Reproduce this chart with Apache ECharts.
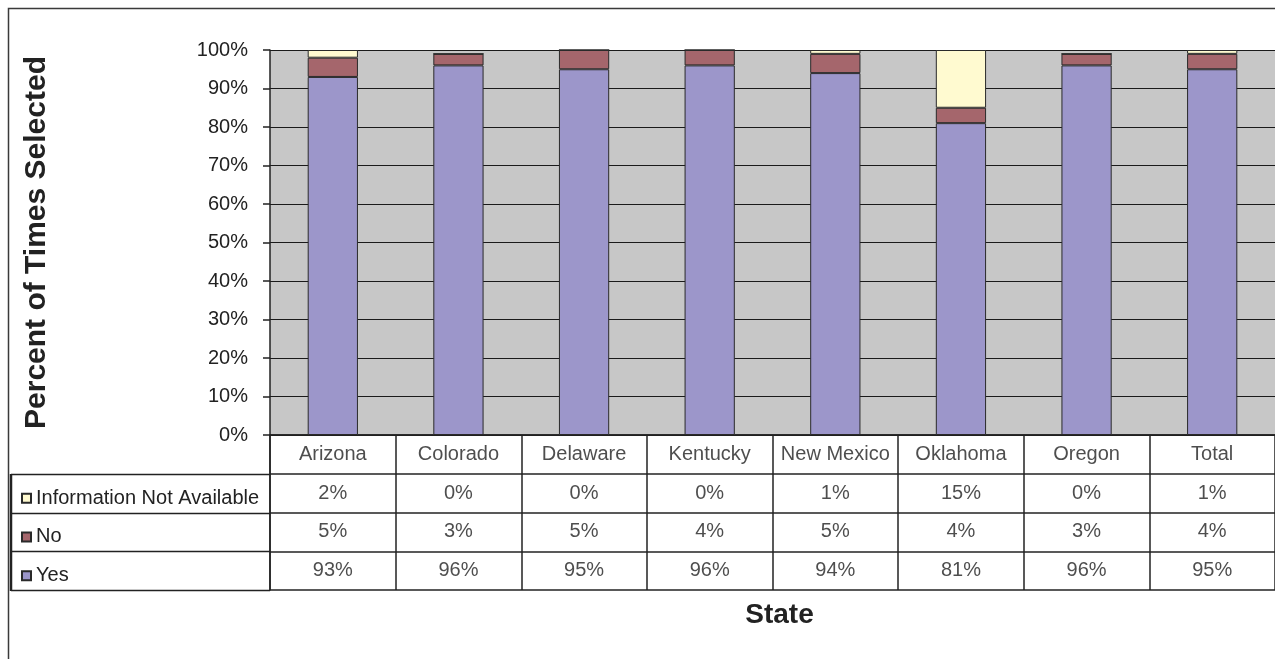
<!DOCTYPE html>
<html>
<head>
<meta charset="utf-8">
<script src="https://cdn.jsdelivr.net/npm/echarts@6/dist/echarts.min.js"></script>
<style>
  html, body { margin: 0; padding: 0; background: #ffffff; }
  #chart { width: 1275px; height: 659px; }
</style>
</head>
<body>
<div id="chart"></div>
<script>
// Share of answers per state (percent)
const categories = ['Arizona', 'Colorado', 'Delaware', 'Kentucky', 'New Mexico', 'Oklahoma', 'Oregon', 'Total'];
const yesPct = [93, 96, 95, 96, 94, 81, 96, 95];
const noPct = [5, 3, 5, 4, 5, 4, 3, 4];
const naPct = [2, 0, 0, 0, 1, 15, 0, 1];

const seriesNames = ['Yes', 'No', 'Information Not Available'];
const colors = { 'Yes': '#9c96ca', 'No': '#a5666c', 'Information Not Available': '#fffad0' };

const FONT = '"Liberation Sans", Arial, sans-serif';
const INK = '#222222';

// layout
const PLOT_LEFT = 270, PLOT_TOP = 50, PLOT_W = 1019, PLOT_H = 385;
const TABLE_TOP = PLOT_TOP + PLOT_H, TABLE_H = 155, ROWS = 4;
const ROW_H = TABLE_H / ROWS;

const chart = echarts.init(document.getElementById('chart'), null, { renderer: 'canvas' });

function barSeries(name, values) {
  return {
    name: name,
    type: 'bar',
    stack: 'pct',
    xAxisIndex: 0,
    yAxisIndex: 0,
    barWidth: '40%',
    data: values,
    itemStyle: { color: colors[name], borderColor: '#2a2a2a', borderWidth: 1 },
    emphasis: { disabled: true },
    animation: false
  };
}

// data-table cells: header row holds category names, then one row per answer
const tableRows = [
  { row: 0.5, values: categories },
  { row: 1.5, values: naPct.map(v => v + '%') },
  { row: 2.5, values: noPct.map(v => v + '%') },
  { row: 3.5, values: yesPct.map(v => v + '%') }
];
const cellData = [];
tableRows.forEach(r => r.values.forEach((v, i) => cellData.push({ value: [i, r.row], text: v })));

// lines of the legend column to the left of the table
const legendLines = [];
for (let k = 1; k <= ROWS; k++) {
  const y = Math.round(TABLE_TOP + ROW_H * k) + 0.5;
  legendLines.push({
    type: 'line',
    shape: { x1: 11, y1: y, x2: PLOT_LEFT, y2: y },
    style: { stroke: '#222', lineWidth: 1.5 }
  });
}
legendLines.push({
  type: 'line',
  shape: { x1: 11, y1: Math.round(TABLE_TOP + ROW_H), x2: 11, y2: TABLE_TOP + TABLE_H + 1 },
  style: { stroke: '#222', lineWidth: 2.5 }
});

const option = {
  backgroundColor: '#ffffff',
  animation: false,
  textStyle: { fontFamily: FONT },
  grid: [
    { left: PLOT_LEFT, top: PLOT_TOP, width: PLOT_W, height: PLOT_H, show: true, backgroundColor: '#c7c7c7', borderWidth: 0 },
    { left: PLOT_LEFT, top: TABLE_TOP, width: PLOT_W, height: TABLE_H, show: false }
  ],
  xAxis: [
    {
      type: 'category', gridIndex: 0, data: categories, boundaryGap: true,
      axisLine: { show: true, lineStyle: { color: '#222', width: 1.5 } },
      axisTick: { show: false }, axisLabel: { show: false }, splitLine: { show: false }
    },
    {
      type: 'category', gridIndex: 1, data: categories, boundaryGap: true,
      axisLine: { show: false }, axisTick: { show: false }, axisLabel: { show: false },
      splitLine: { show: true, lineStyle: { color: '#222', width: 1.5 } }
    }
  ],
  yAxis: [
    {
      type: 'value', gridIndex: 0, min: 0, max: 100, interval: 10,
      name: 'Percent of Times Selected', nameLocation: 'middle', nameGap: 218, nameRotate: 90,
      nameTextStyle: { fontFamily: FONT, fontWeight: 'bold', fontSize: 30, color: INK },
      axisLine: { show: true, lineStyle: { color: '#222', width: 1.5 } },
      axisTick: { show: true, length: 7, lineStyle: { color: '#222', width: 1.5 } },
      axisLabel: { formatter: '{value}%', margin: 22, fontSize: 20, color: INK, fontFamily: FONT },
      splitLine: { show: true, lineStyle: { color: '#1a1a1a', width: 1.2 } }
    },
    {
      type: 'value', gridIndex: 1, min: 0, max: ROWS, interval: 1, inverse: true,
      axisLine: { show: true, lineStyle: { color: '#222', width: 1.5 } },
      axisTick: { show: false }, axisLabel: { show: false },
      splitLine: { show: true, lineStyle: { color: '#222', width: 1.5 } }
    }
  ],
  legend: {
    data: ['Information Not Available', 'No', 'Yes'],
    orient: 'vertical',
    left: 16,
    top: TABLE_TOP + ROW_H * 1.5 - 10,
    itemWidth: 9,
    itemHeight: 9,
    itemGap: ROW_H - 20,
    icon: 'rect',
    selectedMode: false,
    textStyle: { fontFamily: FONT, fontSize: 20, lineHeight: 20, color: INK, padding: [0, 0, 0, 0] }
  },
  series: [
    barSeries('Yes', yesPct),
    barSeries('No', noPct),
    barSeries('Information Not Available', naPct),
    {
      name: 'cells',
      type: 'scatter',
      xAxisIndex: 1,
      yAxisIndex: 1,
      symbolSize: 1,
      itemStyle: { color: 'rgba(0,0,0,0)' },
      data: cellData,
      label: {
        show: true, position: 'inside',
        formatter: p => p.data.text,
        fontFamily: FONT, fontSize: 20, color: INK
      },
      emphasis: { disabled: true },
      silent: true
    }
  ],
  graphic: [
    {
      type: 'rect',
      shape: { x: 8.5, y: 8.5, width: 1320, height: 720 },
      style: { fill: 'none', stroke: '#3a3a3a', lineWidth: 1.5 },
      silent: true
    },
    ...legendLines,
    {
      type: 'text',
      x: PLOT_LEFT + PLOT_W / 2,
      y: 615,
      style: { text: 'State', font: 'bold 28px ' + FONT, fill: INK, textAlign: 'center', textVerticalAlign: 'middle' },
      silent: true
    }
  ]
};

chart.setOption(option);
</script>
</body>
</html>
